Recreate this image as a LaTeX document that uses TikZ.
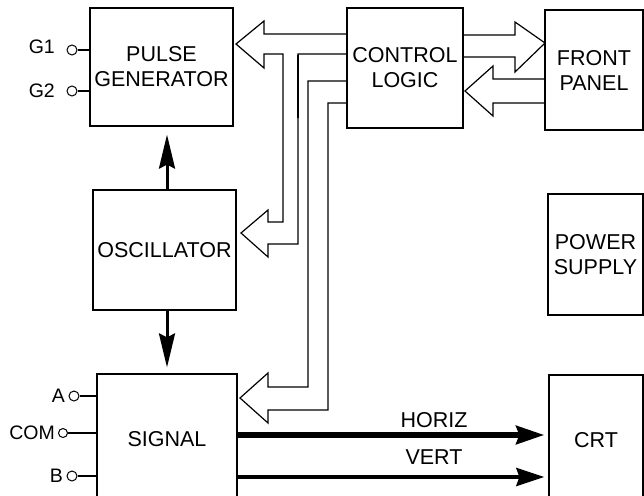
\documentclass[tikz,border=0pt]{standalone}
\usepackage{fontspec}
\setmainfont{Liberation Sans}
\usetikzlibrary{arrows.meta}
\begin{document}
\begin{tikzpicture}[x=1pt,y=-1pt,
  box/.style={draw,line width=1.2pt,inner sep=0pt,align=center,font=\fontsize{21.5}{25}\selectfont},
  lbl/.style={font=\fontsize{19.5}{21}\selectfont,inner sep=0pt,anchor=east},
  sig/.style={font=\fontsize{21.5}{23}\selectfont,inner sep=0pt},
  term/.style={circle,draw,line width=1pt,minimum size=10pt,inner sep=0pt},
  wire/.style={line width=1.1pt},
  bus/.style={line width=1.2pt,line join=miter},
  vtip/.style={-{Stealth[length=34pt,width=16pt,inset=4pt]}},
  htip/.style={-{Stealth[length=28pt,width=18pt,inset=3pt]}}]
\useasboundingbox (0,0) rectangle (644,495);
\clip (0,0) rectangle (644,495);

% boxes
\node[box,minimum width=143pt,minimum height=118pt] (pg) at (161.5,67) {PULSE\\GENERATOR};
\node[box,minimum width=116pt,minimum height=120pt] (cl) at (405,68) {CONTROL\\LOGIC};
\node[box,minimum width=98pt,minimum height=120pt] (fp) at (594,70) {FRONT\\PANEL};
\node[box,minimum width=143pt,minimum height=120pt] (osc) at (164.5,250) {OSCILLATOR};
\node[box,minimum width=95pt,minimum height=121pt] (ps) at (595.5,254.5) {POWER\\SUPPLY};
\node[box,minimum width=140pt,minimum height=130pt] (sg) at (167,439) {SIGNAL};
\node[box,minimum width=94pt,minimum height=130pt] (crt) at (596,440) {CRT};

% terminals
\node[term] (g1c) at (72,50) {};
\node[lbl] (g1) at (55,47) {G1};
\draw[wire] (g1c.east) -- (g1c.east -| pg.west);
\node[term] (g2c) at (72,91) {};
\node[lbl] (g2) at (55,91) {G2};
\draw[line width=1.9pt] (g2c.east) -- (g2c.east -| pg.west);

\node[term] (ac) at (74,396) {};
\node[lbl] (a) at (65,396) {A};
\draw[wire] (ac.east) -- (ac.east -| sg.west);
\node[term,minimum size=9pt] (comc) at (63,433) {};
\node[lbl] (com) at (55,433) {COM};
\draw[wire] (comc.east) -- (comc.east -| sg.west);
\node[term] (bc) at (72,476) {};
\node[lbl] (b) at (63,476) {B};
\draw[line width=1.9pt] (bc.east) -- (bc.east -| sg.west);

% oscillator arrows
\draw[line width=3pt,vtip] ([xshift=2.5pt]osc.north) -- ([xshift=5.5pt,yshift=-8pt]pg.south);
\draw[line width=3pt,vtip] ([xshift=2.5pt]osc.south) -- ([xshift=0pt,yshift=6pt]sg.north);

% signal outputs
\draw[line width=6pt,htip,shorten >=4pt] (sg.east |- 0,435) -- (crt.west |- 0,435);
\node[sig] (hz) at (434,420) {HORIZ};
\draw[line width=4pt,htip,shorten >=4pt] (sg.east |- 0,477) -- (crt.west |- 0,477);
\node[sig] (vt) at (434,457) {VERT};

% bus: control logic to pulse generator and oscillator
\draw[bus] (cl.west |- 0,34) -- (264,34) -- (264,21) -- (236,44) -- (264,68) -- (264,54)
  -- (283,54) -- (283,222) -- (268,222) -- (268,210) -- (241,233) -- (268,257)
  -- (268,244) -- (298,244) -- (298,54) -- (cl.west |- 0,54);
\draw[line width=2.4pt] (298,55) -- (298,118);

% bus: control logic to signal
\draw[bus] (cl.west |- 0,81) -- (308,81) -- (308,387) -- (268,387) -- (268,373)
  -- (240,398) -- (268,423) -- (268,410) -- (328,410) -- (328,103) -- (cl.west |- 0,103);

% bus: control logic to front panel
\draw[bus] (cl.east |- 0,35) -- (515,35) -- (515,22) -- (545,43) -- (515,72)
  -- (515,57) -- (cl.east |- 0,57);
% bus: front panel to control logic
\draw[bus] (fp.west |- 0,79) -- (493,79) -- (493,66) -- (465,91) -- (493,116)
  -- (493,103) -- (fp.west |- 0,103);
\end{tikzpicture}
\end{document}
